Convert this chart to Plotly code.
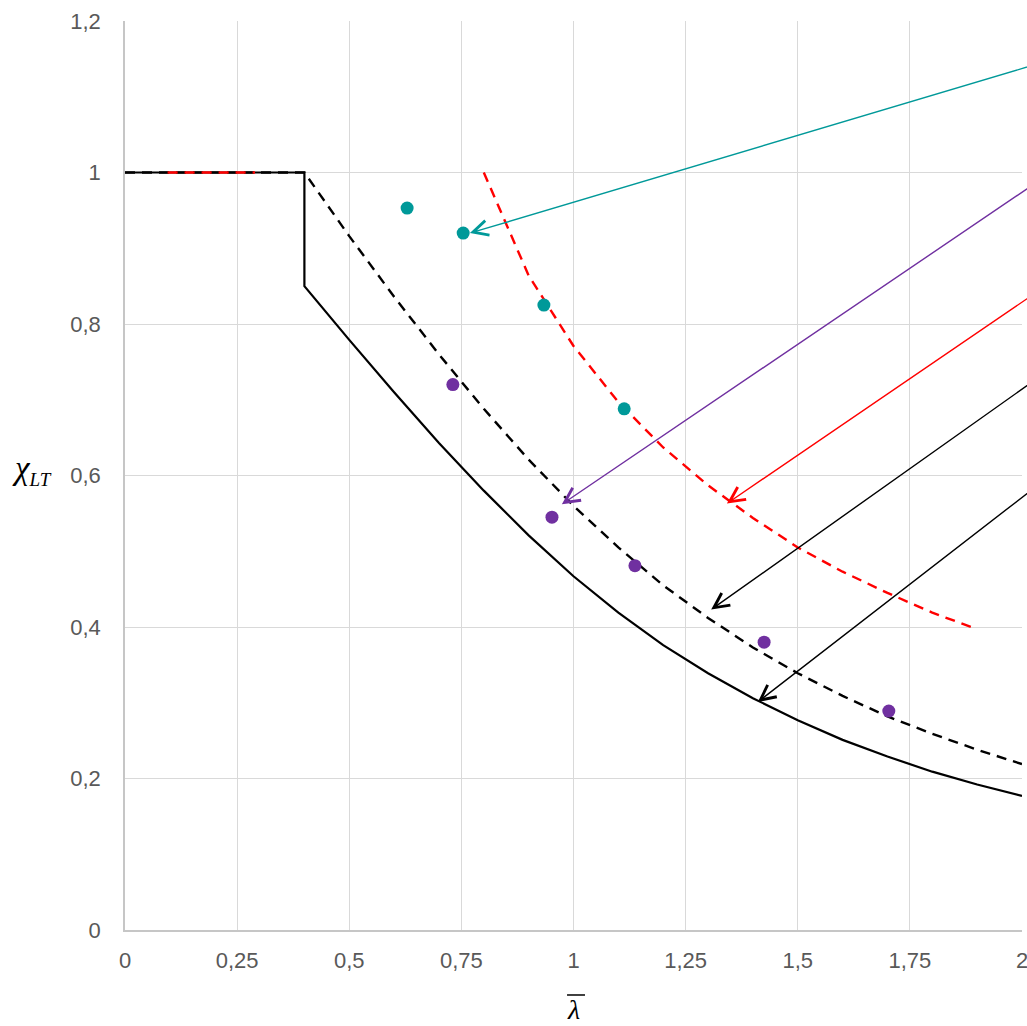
import plotly.graph_objects as go

# ---- data ----
lam_solid = [0, 0.4, 0.4, 0.5, 0.6, 0.7, 0.8, 0.9, 1.0, 1.1, 1.2, 1.3, 1.4, 1.5, 1.6, 1.7, 1.8, 1.9, 2.0]
chi_solid = [1, 1, 0.85, 0.779, 0.710, 0.643, 0.580, 0.521, 0.467, 0.419, 0.376, 0.339, 0.306, 0.277, 0.251, 0.229, 0.209, 0.192, 0.177]

lam_dash = [0, 0.4, 0.5, 0.6, 0.7, 0.8, 0.9, 1.0, 1.1, 1.2, 1.3, 1.4, 1.5, 1.6, 1.7, 1.8, 1.9, 2.0]
chi_dash = [1, 1, 0.916, 0.836, 0.760, 0.688, 0.621, 0.560, 0.505, 0.455, 0.412, 0.373, 0.339, 0.309, 0.282, 0.259, 0.238, 0.219]

lam_red = [0.8, 0.9, 1.0, 1.1, 1.2, 1.3, 1.4, 1.5, 1.6, 1.7, 1.8, 1.9]
chi_red = [1.0, 0.864, 0.771, 0.697, 0.637, 0.587, 0.544, 0.505, 0.473, 0.445, 0.419, 0.397]

lam_red_top = [0.095, 0.29]
chi_red_top = [1, 1]

lam_teal = [0.629, 0.754, 0.934, 1.113]
chi_teal = [0.953, 0.920, 0.825, 0.688]

lam_purple = [0.731, 0.952, 1.137, 1.425, 1.703]
chi_purple = [0.720, 0.545, 0.481, 0.380, 0.289]

# arrows: tip (x, y), tail (x, y), colour
arrow_tip_x = [0.769, 0.974, 1.342, 1.307, 1.411]
arrow_tip_y = [0.920, 0.562, 0.563, 0.423, 0.301]
arrow_tail_x = [2.05, 2.05, 2.05, 2.05, 2.05]
arrow_tail_y = [1.146, 0.994, 0.849, 0.735, 0.594]
arrow_colors = ["#009999", "#7030A0", "#FF0000", "#000000", "#000000"]

x_ticks = [0, 0.25, 0.5, 0.75, 1, 1.25, 1.5, 1.75, 2]
x_ticklabels = ["0", "0,25", "0,5", "0,75", "1", "1,25", "1,5", "1,75", "2"]
y_ticks = [0, 0.2, 0.4, 0.6, 0.8, 1, 1.2]
y_ticklabels = ["0", "0,2", "0,4", "0,6", "0,8", "1", "1,2"]

fig = go.Figure()
fig.add_trace(go.Scatter(x=lam_solid, y=chi_solid, mode="lines",
                         line=dict(color="black", width=2.2), showlegend=False))
fig.add_trace(go.Scatter(x=lam_dash, y=chi_dash, mode="lines",
                         line=dict(color="black", width=2.4, dash="10px,7px"), showlegend=False))
fig.add_trace(go.Scatter(x=lam_red, y=chi_red, mode="lines",
                         line=dict(color="#FF0000", width=2.4, dash="10px,7px"), showlegend=False))
fig.add_trace(go.Scatter(x=lam_red_top, y=chi_red_top, mode="lines",
                         line=dict(color="#FF0000", width=2.4, dash="10px,7px"), showlegend=False))
fig.add_trace(go.Scatter(x=lam_teal, y=chi_teal, mode="markers",
                         marker=dict(color="#009999", size=13), showlegend=False))
fig.add_trace(go.Scatter(x=lam_purple, y=chi_purple, mode="markers",
                         marker=dict(color="#7030A0", size=13), showlegend=False))

for tx, ty, ax, ay, c in zip(arrow_tip_x, arrow_tip_y, arrow_tail_x, arrow_tail_y, arrow_colors):
    fig.add_annotation(x=tx, y=ty, ax=ax, ay=ay, xref="x", yref="y", axref="x", ayref="y",
                       text="", showarrow=True, arrowhead=5, arrowsize=2.1,
                       arrowwidth=1.4, arrowcolor=c)

# axis titles
fig.add_annotation(xref="paper", yref="paper", x=-0.128, y=0.506, xanchor="left", yanchor="middle",
                   text="<i>χ<sub><span style='font-size:19px'>LT</span></sub></i>", showarrow=False,
                   font=dict(family="Liberation Serif", size=33, color="black"))
fig.add_annotation(xref="paper", yref="paper", x=0.4995, y=-0.0875, xanchor="center", yanchor="middle",
                   text="<i>λ</i>", showarrow=False,
                   font=dict(family="Liberation Serif", size=28, color="black"))
fig.add_shape(type="line", xref="paper", yref="paper", x0=0.4928, x1=0.5128, y0=-0.0715, y1=-0.0715,
              line=dict(color="black", width=1.5))

axis_font = dict(family="Liberation Sans", size=22, color="#595959")
fig.update_xaxes(range=[0, 2], tickmode="array", tickvals=x_ticks, ticktext=x_ticklabels,
                 showgrid=True, gridcolor="#d9d9d9", gridwidth=1, zeroline=False,
                 showline=True, linecolor="#c6c6c6", linewidth=1.5, ticks="",
                 tickfont=axis_font, ticklabelstandoff=10, automargin=False,
                 ticklabeloverflow="allow")
fig.update_yaxes(range=[0, 1.2], tickmode="array", tickvals=y_ticks, ticktext=y_ticklabels,
                 showgrid=True, gridcolor="#d9d9d9", gridwidth=1, zeroline=False,
                 showline=True, linecolor="#c6c6c6", linewidth=1.5, ticks="",
                 tickfont=axis_font, ticklabelstandoff=18, automargin=False,
                 ticklabeloverflow="allow")

fig.update_layout(width=1027, height=1026, margin=dict(l=125, r=5, t=21, b=96, autoexpand=False),
                  plot_bgcolor="white", paper_bgcolor="white")

fig.write_html("out.html", config={"displayModeBar": False},
               post_script="document.body.style.margin='0';document.body.style.overflow='hidden';")
